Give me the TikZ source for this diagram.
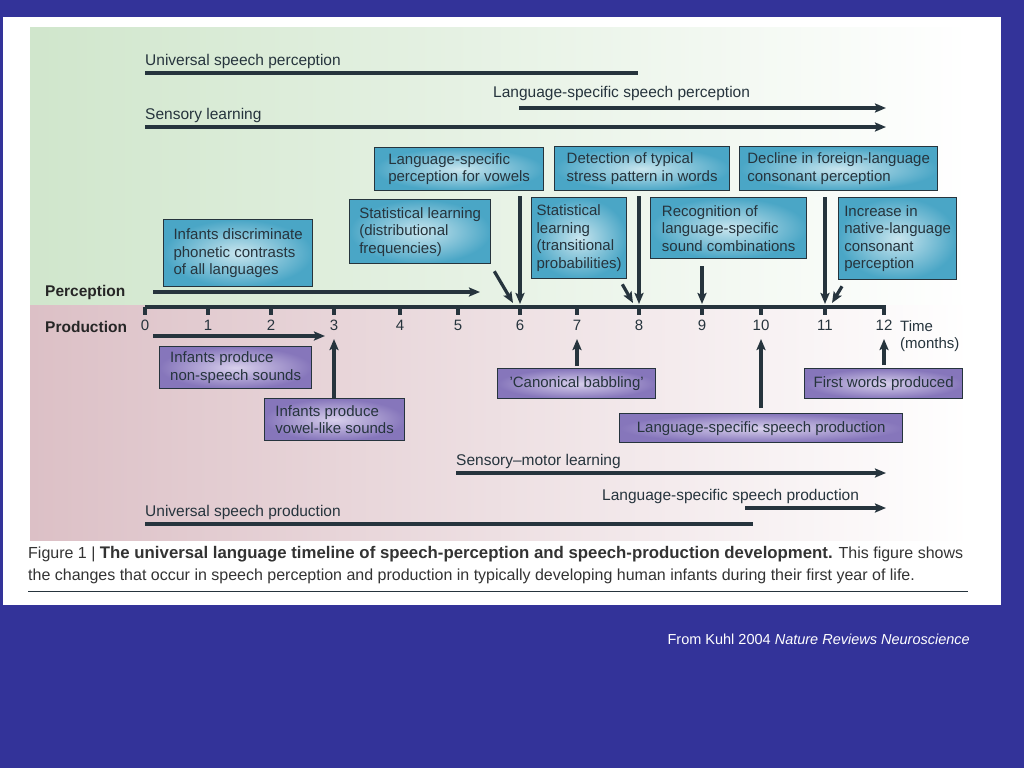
\documentclass[tikz,border=0pt]{standalone}
\usepackage{fontspec}
\setmainfont{Liberation Sans}
\usetikzlibrary{arrows.meta,calc}
\definecolor{slide}{HTML}{333399}
\definecolor{ink}{HTML}{26343D}
\definecolor{percwash}{HTML}{D0E6CC}
\definecolor{prodwash}{HTML}{DCC0C6}
\definecolor{percbox}{HTML}{4AA6C6}
\definecolor{percglow}{HTML}{C8E5EE}
\definecolor{prodbox}{HTML}{8676BB}
\definecolor{prodglow}{HTML}{D8D0EC}
\tikzset{pbox/.style={draw=ink,line width=1.3pt,inner color=percglow,outer color=percbox,align=left,anchor=north west,inner sep=0pt,text=ink,font=\fontsize{15}{17.5}\selectfont},rbox/.style={pbox,inner color=prodglow,outer color=prodbox},arr/.style={-{Stealth[length=11pt,width=9pt,inset=2pt]},draw=ink,line width=3.2pt},bar/.style={draw=ink,line width=3.2pt},lbl/.style={anchor=base west,inner xsep=0pt,text=ink,font=\fontsize{15.5}{18}\selectfont},side/.style={anchor=base west,inner xsep=0pt,text=black!85,font=\bfseries\fontsize{15.5}{18}\selectfont},capt/.style={anchor=base west,text=black!80,inner sep=0pt,font=\fontsize{16}{18}\selectfont}}

\begin{document}
\begin{tikzpicture}[x=1pt,y=-1pt]

\fill[slide] (0,0) rectangle (1024,768);
\fill[white] (3,17) rectangle (1001,605);
\shade[left color=percwash,middle color=percwash!85!white,right color=white] (30,28) rectangle (970,305);
\shade[left color=prodwash,middle color=prodwash!85!white,right color=white] (30,305) rectangle (970,540);

\node[lbl] (usp) at (145,66) {Universal speech perception};
\draw[bar] ($(usp.base west)+(0,7)$) -- (638,73);
\node[lbl] (lsp) at (493,97) {Language-specific speech perception};
\draw[arr] (519,108) -- (886,108);
\node[lbl] (sens) at (145,119) {Sensory learning};
\draw[arr] ($(sens.base west)+(0,8)$) -- (886,127);

\node[side] (perc) at (45,296) {Perception};
\node[side] (prod) at (45,332) {Production};
\draw[arr] (153,292) -- (480,292);
\draw[arr] (153,336) -- (325,336);

\draw[bar] (145,307) -- (886,307);
\foreach \m/\x in {0/145,1/208,2/271,3/334,4/400,5/458,6/520,7/577,8/639,9/702,10/761,11/825,12/884}{
  \coordinate (t\m) at (\x,307);
  \draw[bar] (t\m) -- ++(0,8);
  \node[text=ink,font=\fontsize{15}{17}\selectfont] (lab\m) at (\x,325) {\m};
}
\node[lbl,anchor=west,align=left,font=\fontsize{15}{17.5}\selectfont] (unit) at (900,336) {Time\\(months)};

\node[pbox,minimum width=149pt,minimum height=67pt] (discrim) at (163,219) {Infants discriminate\\phonetic contrasts\\of all languages};
\node[pbox,minimum width=141pt,minimum height=64pt] (distrib) at (349,199) {Statistical learning\\(distributional\\frequencies)};
\node[pbox,minimum width=169pt,minimum height=43pt] (vowels) at (374,147) {Language-specific\\perception for vowels};
\node[pbox,minimum width=175pt,minimum height=44pt] (stress) at (554,146) {Detection of typical\\stress pattern in words};
\node[pbox,minimum width=95pt,minimum height=81pt] (transit) at (531,197) {Statistical\\learning\\(transitional\\probabilities)};
\node[pbox,minimum width=156pt,minimum height=61pt] (recog) at (650,197) {Recognition of\\language-specific\\sound combinations};
\node[pbox,minimum width=198pt,minimum height=44pt] (decline) at (739,146) {Decline in foreign-language\\consonant perception};
\node[pbox,minimum width=118pt,minimum height=82pt] (native) at (838,197) {Increase in\\native-language\\consonant\\perception};

\draw[arr] ([yshift=-5pt]vowels.south -| t6) -- ([yshift=3pt]t6);
\draw[arr] ([yshift=-5pt]stress.south -| t8) -- ([yshift=3pt]t8);
\draw[arr] ([yshift=-7pt]recog.south -| t9) -- ([yshift=3pt]t9);
\draw[arr] ([yshift=-6pt]decline.south -| t11) -- ([yshift=3pt]t11);
\draw[arr] ($(distrib.south east)+(3,7)$) -- ($(t6)+(-7,-4)$);
\draw[arr] ($(transit.south east)+(-5,5)$) -- ($(t8)+(-6,-4)$);
\draw[arr] ($(native.south west)+(4,6)$) -- ($(t11)+(7,-4)$);

\node[rbox,minimum width=152pt,minimum height=42pt] (nonsp) at (159,346) {Infants produce\\non-speech sounds};
\node[rbox,minimum width=140pt,minimum height=42pt] (vowlike) at (264,398) {Infants produce\\vowel-like sounds};
\node[rbox,minimum width=158pt,minimum height=30pt] (babble) at (497,368) {'Canonical babbling'};
\node[rbox,minimum width=158pt,minimum height=30pt] (firstw) at (804,368) {First words produced};
\node[rbox,minimum width=283pt,minimum height=29pt] (lsprod) at (619,413) {Language-specific speech production};

\draw[arr] (vowlike.north -| t3) -- ($(t3)+(0,32)$);
\draw[arr] ([yshift=2pt]babble.north -| t7) -- ($(t7)+(0,32)$);
\draw[arr] ([yshift=5pt]lsprod.north -| t10) -- ($(t10)+(0,32)$);
\draw[arr] ([yshift=3pt]firstw.north -| t12) -- ($(t12)+(0,32)$);

\node[lbl] (smot) at (456,465) {Sensory--motor learning};
\draw[arr] ($(smot.base west)+(0,8)$) -- (886,473);
\node[lbl] (lspp) at (602,500) {Language-specific speech production};
\draw[arr] (745,508) -- (886,508);
\node[lbl] (uspp) at (145,516) {Universal speech production};
\draw[bar] ($(uspp.base west)+(0,8)$) -- (753,524);

\node[capt] (cap1) at (28,558) {Figure 1 | {\bfseries\fontsize{16.8}{18}\selectfont The universal language timeline of speech-perception and speech-production development.} This figure shows};
\node[capt] (cap2) at (28,580) {the changes that occur in speech perception and production in typically developing human infants during their first year of life.};
\draw[ink,line width=0.8pt] (28,591) -- (968,591);

\node[anchor=base east,text=white,inner sep=0pt,font=\fontsize{14.5}{17}\selectfont] (src) at (970,644) {From Kuhl 2004 \textit{Nature Reviews Neuroscience}};
\end{tikzpicture}
\end{document}
